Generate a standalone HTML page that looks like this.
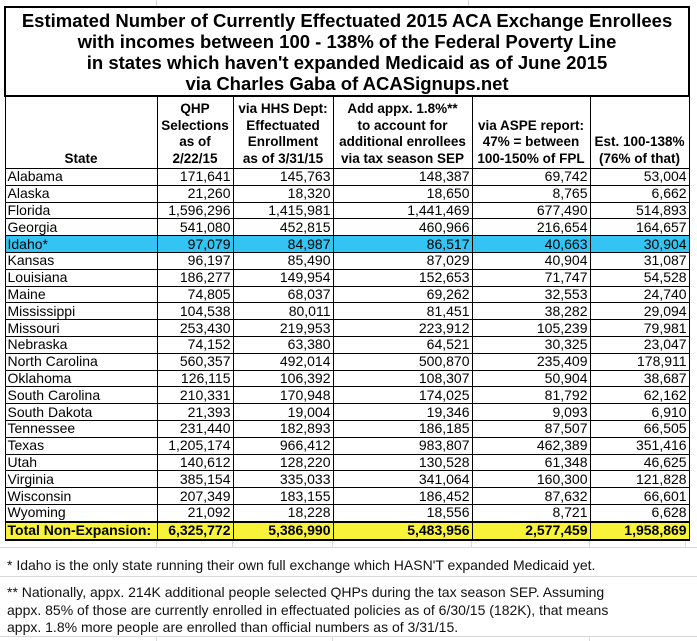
<!DOCTYPE html>
<html><head><meta charset="utf-8"><style>
html,body{margin:0;padding:0;background:#fff;}
body{width:697px;height:641px;position:relative;overflow:hidden;font-family:"Liberation Sans",Arial,sans-serif;}
.g{position:absolute;background:#d8d8d8;}
table{position:absolute;left:4px;top:6px;border-collapse:collapse;table-layout:fixed;width:684px;}
td{border:1px solid #000;padding:0 2px;font-size:14px;line-height:15px;height:15.8px;text-align:right;white-space:nowrap;overflow:hidden;}
td:first-child{text-align:left;}
.title td{border:2px solid #000;text-align:center;font-weight:bold;font-size:18.5px;line-height:21px;height:86px;padding-top:1px;}
.hd td{font-weight:bold;font-size:13.5px;line-height:16.5px;text-align:center;vertical-align:bottom;height:70px;padding-bottom:1px;}
.id td{background:#33c4f3;}
.tot td{background:#f9f23a;font-weight:bold;border-top:2px solid #000;border-bottom:2px solid #000;}
.fn{position:absolute;left:7px;font-size:14px;color:#111;white-space:nowrap;}
</style></head><body>
<div class="g" style="left:156px;top:0;width:1px;height:7px"></div>
<div class="g" style="left:468px;top:0;width:1px;height:7px"></div>
<div class="g" style="left:0;top:547px;width:697px;height:1px"></div>
<div class="g" style="left:0;top:576px;width:697px;height:1px"></div>
<div class="g" style="left:0;top:636px;width:697px;height:1px"></div>
<div class="g" style="left:156px;top:541px;width:1px;height:6px"></div>
<div class="g" style="left:232px;top:541px;width:1px;height:6px"></div>
<div class="g" style="left:332px;top:541px;width:1px;height:6px"></div>
<div class="g" style="left:471px;top:541px;width:1px;height:6px"></div>
<div class="g" style="left:589px;top:541px;width:1px;height:6px"></div>
<div class="g" style="left:685px;top:541px;width:1px;height:6px"></div>
<div class="g" style="left:156px;top:636px;width:1px;height:5px"></div>
<div class="g" style="left:332px;top:636px;width:1px;height:5px"></div>
<div class="g" style="left:589px;top:636px;width:1px;height:5px"></div>
<table>
<colgroup><col style="width:152px"><col style="width:76px"><col style="width:100px"><col style="width:139px"><col style="width:118px"><col style="width:99px"></colgroup>
<tr class="title"><td colspan="6">Estimated Number of Currently Effectuated 2015 ACA Exchange Enrollees<br>with incomes between 100 - 138% of the Federal Poverty Line<br>in states which haven't expanded Medicaid as of June 2015<br>via Charles Gaba of ACASignups.net</td></tr>
<tr class="hd"><td style="text-align:center">State</td><td>QHP<br>Selections<br>as of<br>2/22/15</td><td>via HHS Dept:<br>Effectuated<br>Enrollment<br>as of 3/31/15</td><td>Add appx. 1.8%**<br>to account for<br>additional enrollees<br>via tax season SEP</td><td>via ASPE report:<br>47% = between<br>100-150% of FPL</td><td>Est. 100-138%<br>(76% of that)</td></tr>
<tr><td>Alabama</td><td>171,641</td><td>145,763</td><td>148,387</td><td>69,742</td><td>53,004</td></tr>
<tr><td>Alaska</td><td>21,260</td><td>18,320</td><td>18,650</td><td>8,765</td><td>6,662</td></tr>
<tr><td>Florida</td><td>1,596,296</td><td>1,415,981</td><td>1,441,469</td><td>677,490</td><td>514,893</td></tr>
<tr><td>Georgia</td><td>541,080</td><td>452,815</td><td>460,966</td><td>216,654</td><td>164,657</td></tr>
<tr class="id"><td>Idaho*</td><td>97,079</td><td>84,987</td><td>86,517</td><td>40,663</td><td>30,904</td></tr>
<tr><td>Kansas</td><td>96,197</td><td>85,490</td><td>87,029</td><td>40,904</td><td>31,087</td></tr>
<tr><td>Louisiana</td><td>186,277</td><td>149,954</td><td>152,653</td><td>71,747</td><td>54,528</td></tr>
<tr><td>Maine</td><td>74,805</td><td>68,037</td><td>69,262</td><td>32,553</td><td>24,740</td></tr>
<tr><td>Mississippi</td><td>104,538</td><td>80,011</td><td>81,451</td><td>38,282</td><td>29,094</td></tr>
<tr><td>Missouri</td><td>253,430</td><td>219,953</td><td>223,912</td><td>105,239</td><td>79,981</td></tr>
<tr><td>Nebraska</td><td>74,152</td><td>63,380</td><td>64,521</td><td>30,325</td><td>23,047</td></tr>
<tr><td>North Carolina</td><td>560,357</td><td>492,014</td><td>500,870</td><td>235,409</td><td>178,911</td></tr>
<tr><td>Oklahoma</td><td>126,115</td><td>106,392</td><td>108,307</td><td>50,904</td><td>38,687</td></tr>
<tr><td>South Carolina</td><td>210,331</td><td>170,948</td><td>174,025</td><td>81,792</td><td>62,162</td></tr>
<tr><td>South Dakota</td><td>21,393</td><td>19,004</td><td>19,346</td><td>9,093</td><td>6,910</td></tr>
<tr><td>Tennessee</td><td>231,440</td><td>182,893</td><td>186,185</td><td>87,507</td><td>66,505</td></tr>
<tr><td>Texas</td><td>1,205,174</td><td>966,412</td><td>983,807</td><td>462,389</td><td>351,416</td></tr>
<tr><td>Utah</td><td>140,612</td><td>128,220</td><td>130,528</td><td>61,348</td><td>46,625</td></tr>
<tr><td>Virginia</td><td>385,154</td><td>335,033</td><td>341,064</td><td>160,300</td><td>121,828</td></tr>
<tr><td>Wisconsin</td><td>207,349</td><td>183,155</td><td>186,452</td><td>87,632</td><td>66,601</td></tr>
<tr><td>Wyoming</td><td>21,092</td><td>18,228</td><td>18,556</td><td>8,721</td><td>6,628</td></tr>
<tr class="tot"><td>Total Non-Expansion:</td><td>6,325,772</td><td>5,386,990</td><td>5,483,956</td><td>2,577,459</td><td>1,958,869</td></tr>
</table>
<div class="fn" style="top:557px">* Idaho is the only state running their own full exchange which HASN'T expanded Medicaid yet.</div>
<div class="fn" style="top:584px;line-height:17.5px">** Nationally, appx. 214K additional people selected QHPs during the tax season SEP. Assuming<br>appx. 85% of those are currently enrolled in effectuated policies as of 6/30/15 (182K), that means<br>appx. 1.8% more people are enrolled than official numbers as of 3/31/15.</div>
</body></html>
